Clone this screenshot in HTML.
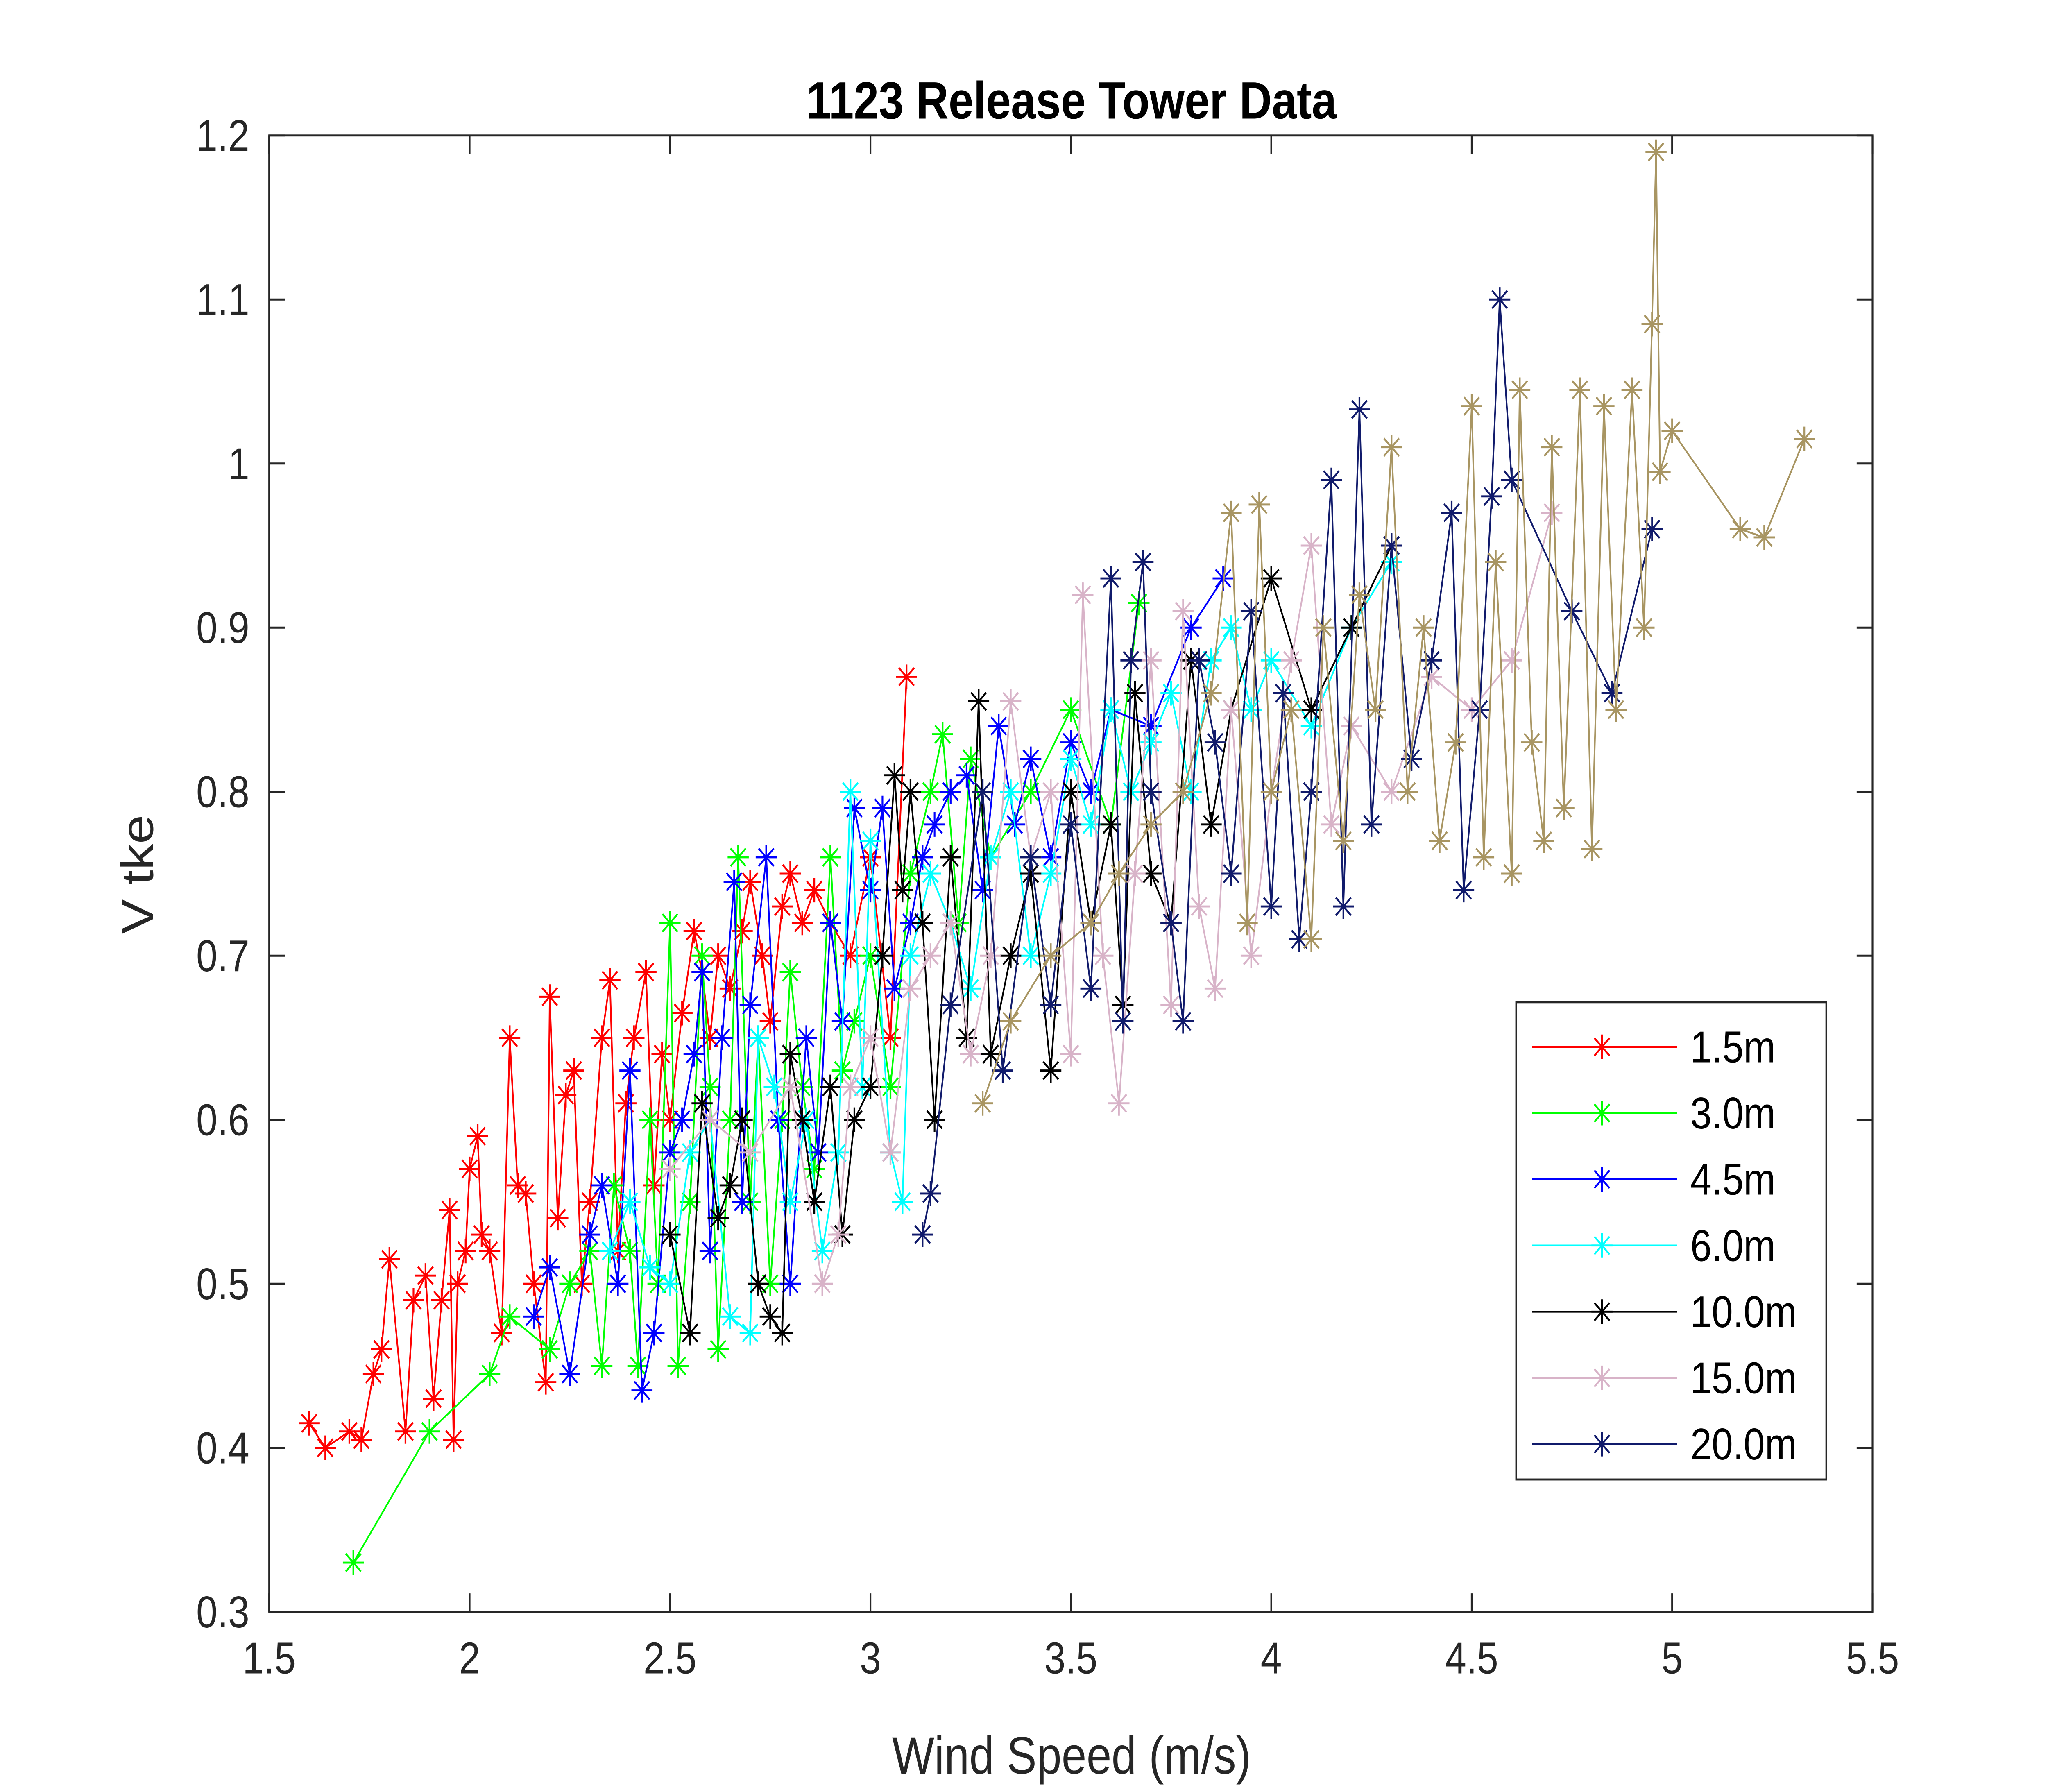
<!DOCTYPE html>
<html><head><meta charset="utf-8"><style>
html,body{margin:0;padding:0;background:#fff;width:100%;height:100%;overflow:hidden;}
svg{display:block;font-family:"Liberation Sans",Arial,sans-serif;width:100vw;height:100vh;}
</style></head><body>
<svg id="chart" viewBox="0 0 1552 1164" preserveAspectRatio="none" xmlns="http://www.w3.org/2000/svg">
<rect x="0" y="0" width="1552" height="1164" fill="#fff"/>
<text x="812" y="77" text-anchor="middle" font-size="34" font-weight="bold">1123 Release Tower Data</text>
<rect x="204" y="88" width="1215" height="959" fill="#fff" stroke="none"/>
<g id="marks"></g>
<g id="axes"></g>
<text x="812" y="1152" text-anchor="middle" font-size="34" fill="#262626">Wind Speed (m/s)</text>
<text x="0" y="0" transform="translate(116,568) rotate(-90)" text-anchor="middle" font-size="34" fill="#262626">V tke</text>
<g id="legend"></g>
</svg>
<script>
const xTicks=[1.5,2,2.5,3,3.5,4,4.5,5,5.5];
const xTickLabels=["1.5","2","2.5","3","3.5","4","4.5","5","5.5"];
const yTicks=[0.3,0.4,0.5,0.6,0.7,0.8,0.9,1,1.1,1.2];
const yTickLabels=["0.3","0.4","0.5","0.6","0.7","0.8","0.9","1","1.1","1.2"];
const seriesNames=["1.5m","3.0m","4.5m","6.0m","10.0m","15.0m","20.0m","25.0m"];
const x15=[1.6,1.64,1.7,1.73,1.76,1.78,1.8,1.84,1.86,1.89,1.91,1.93,1.95,1.96,1.97,1.99,2.0,2.02,2.03,2.05,2.08,2.1,2.12,2.14,2.16,2.19,2.2,2.22,2.24,2.26,2.28,2.3,2.33,2.35,2.37,2.39,2.41,2.44,2.46,2.48,2.5,2.53,2.56,2.58,2.6,2.62,2.65,2.68,2.7,2.73,2.75,2.78,2.8,2.83,2.86,2.9,2.95,3.0,3.05,3.09];
const y15=[0.415,0.4,0.41,0.405,0.445,0.46,0.515,0.41,0.49,0.505,0.43,0.49,0.545,0.405,0.5,0.52,0.57,0.59,0.53,0.52,0.47,0.65,0.56,0.555,0.5,0.44,0.675,0.54,0.615,0.63,0.5,0.55,0.65,0.685,0.52,0.61,0.65,0.69,0.56,0.64,0.6,0.665,0.715,0.69,0.65,0.7,0.68,0.715,0.745,0.7,0.66,0.73,0.75,0.72,0.74,0.72,0.7,0.76,0.65,0.87];
const x30=[1.71,1.9,2.05,2.1,2.2,2.25,2.3,2.33,2.36,2.4,2.42,2.45,2.47,2.5,2.52,2.55,2.58,2.6,2.62,2.65,2.67,2.7,2.72,2.75,2.78,2.8,2.83,2.86,2.9,2.93,2.96,3.0,3.05,3.1,3.15,3.18,3.22,3.25,3.3,3.4,3.5,3.6,3.67];
const y30=[0.33,0.41,0.445,0.48,0.46,0.5,0.52,0.45,0.56,0.52,0.45,0.6,0.5,0.72,0.45,0.55,0.7,0.62,0.46,0.6,0.76,0.55,0.65,0.5,0.6,0.69,0.62,0.57,0.76,0.63,0.66,0.7,0.62,0.75,0.8,0.835,0.72,0.82,0.76,0.8,0.85,0.78,0.915];
const x45=[2.16,2.2,2.25,2.3,2.33,2.37,2.4,2.43,2.46,2.5,2.53,2.56,2.58,2.6,2.63,2.66,2.68,2.7,2.74,2.77,2.8,2.84,2.87,2.9,2.93,2.96,3.0,3.03,3.06,3.1,3.13,3.16,3.2,3.24,3.28,3.32,3.36,3.4,3.45,3.5,3.55,3.6,3.7,3.8,3.88];
const y45=[0.48,0.51,0.445,0.53,0.56,0.5,0.63,0.435,0.47,0.58,0.6,0.64,0.69,0.52,0.65,0.745,0.55,0.67,0.76,0.6,0.5,0.65,0.58,0.72,0.66,0.79,0.74,0.79,0.68,0.72,0.76,0.78,0.8,0.81,0.74,0.84,0.78,0.82,0.76,0.83,0.8,0.85,0.84,0.9,0.93];
const x60=[2.35,2.4,2.45,2.5,2.55,2.6,2.65,2.7,2.72,2.76,2.8,2.84,2.88,2.92,2.95,2.98,3.0,3.05,3.08,3.1,3.15,3.2,3.25,3.3,3.35,3.4,3.45,3.5,3.55,3.6,3.65,3.7,3.75,3.8,3.85,3.9,3.95,4.0,4.1,4.2,4.3];
const y60=[0.52,0.55,0.51,0.5,0.58,0.6,0.48,0.47,0.65,0.62,0.55,0.6,0.52,0.58,0.8,0.62,0.77,0.58,0.55,0.7,0.75,0.72,0.68,0.76,0.8,0.7,0.75,0.82,0.78,0.85,0.8,0.83,0.86,0.8,0.88,0.9,0.85,0.88,0.84,0.9,0.94];
const x100=[2.5,2.55,2.58,2.62,2.65,2.68,2.72,2.75,2.78,2.8,2.83,2.86,2.9,2.93,2.96,3.0,3.03,3.06,3.08,3.1,3.13,3.16,3.2,3.24,3.27,3.3,3.35,3.4,3.45,3.5,3.55,3.6,3.63,3.66,3.7,3.75,3.8,3.85,3.9,4.0,4.1,4.2,4.3];
const y100=[0.53,0.47,0.61,0.54,0.56,0.6,0.5,0.48,0.47,0.64,0.6,0.55,0.62,0.53,0.6,0.62,0.7,0.81,0.74,0.8,0.72,0.6,0.76,0.65,0.855,0.64,0.7,0.75,0.63,0.8,0.72,0.78,0.67,0.86,0.75,0.72,0.88,0.78,0.85,0.93,0.85,0.9,0.95];
const x150=[2.5,2.6,2.7,2.8,2.88,2.92,2.95,3.0,3.05,3.1,3.15,3.2,3.25,3.3,3.35,3.4,3.45,3.5,3.53,3.58,3.62,3.66,3.7,3.75,3.78,3.82,3.86,3.9,3.95,4.0,4.05,4.1,4.15,4.2,4.3,4.4,4.5,4.6,4.7];
const y150=[0.57,0.6,0.58,0.62,0.5,0.53,0.62,0.65,0.58,0.68,0.7,0.72,0.64,0.7,0.855,0.76,0.8,0.64,0.92,0.7,0.61,0.75,0.88,0.67,0.91,0.73,0.68,0.85,0.7,0.8,0.88,0.95,0.78,0.84,0.8,0.87,0.85,0.88,0.97];
const x200=[3.13,3.15,3.2,3.28,3.33,3.4,3.45,3.5,3.55,3.6,3.63,3.65,3.68,3.7,3.75,3.78,3.82,3.86,3.9,3.95,4.0,4.03,4.07,4.1,4.15,4.18,4.22,4.25,4.3,4.35,4.4,4.45,4.48,4.52,4.55,4.57,4.6,4.75,4.85,4.95];
const y200=[0.53,0.555,0.67,0.8,0.63,0.76,0.67,0.78,0.68,0.93,0.66,0.88,0.94,0.8,0.72,0.66,0.88,0.83,0.75,0.91,0.73,0.86,0.71,0.8,0.99,0.73,1.033,0.78,0.95,0.82,0.88,0.97,0.74,0.85,0.98,1.1,0.99,0.91,0.86,0.96];
const x250=[3.28,3.35,3.45,3.55,3.62,3.7,3.78,3.85,3.9,3.94,3.97,4.0,4.05,4.1,4.13,4.18,4.22,4.26,4.3,4.34,4.38,4.42,4.46,4.5,4.53,4.56,4.6,4.62,4.65,4.68,4.7,4.73,4.77,4.8,4.83,4.86,4.9,4.93,4.95,4.96,4.97,5.0,5.17,5.23,5.33];
const y250=[0.61,0.66,0.7,0.72,0.75,0.78,0.8,0.86,0.97,0.72,0.975,0.8,0.85,0.71,0.9,0.77,0.92,0.85,1.01,0.8,0.9,0.77,0.83,1.035,0.76,0.94,0.75,1.045,0.83,0.77,1.01,0.79,1.045,0.765,1.035,0.85,1.045,0.9,1.085,1.19,0.995,1.02,0.96,0.955,1.015];

const NS="http://www.w3.org/2000/svg";
const L=204,R=1419,T=88,B=1047;
function sx(v){return L+(v-1.5)/(5.5-1.5)*(R-L);}
function sy(v){return B-(v-0.3)/(1.2-0.3)*(B-T);}
function mk(tag,attrs,parent){const e=document.createElementNS(NS,tag);for(const k in attrs)e.setAttribute(k,attrs[k]);parent.appendChild(e);return e;}
function star(cx,cy,r,color,parent){
  const d=`M${cx-r},${cy}H${cx+r}M${cx},${cy-r}V${cy+r}M${cx-r*0.72},${cy-r*0.72}L${cx+r*0.72},${cy+r*0.72}M${cx-r*0.72},${cy+r*0.72}L${cx+r*0.72},${cy-r*0.72}`;
  return mk('path',{d:d,stroke:color,'stroke-width':1.3,fill:'none'},parent);
}
const series=[
 {x:x15,y:y15,c:'#ff0000',n:'series-1-5m'},
 {x:x30,y:y30,c:'#00ff00',n:'series-3-0m'},
 {x:x45,y:y45,c:'#0000ff',n:'series-4-5m'},
 {x:x60,y:y60,c:'#00ffff',n:'series-6-0m'},
 {x:x100,y:y100,c:'#000000',n:'series-10-0m'},
 {x:x150,y:y150,c:'#d8b3c8',n:'series-15-0m'},
 {x:x200,y:y200,c:'#101a6b',n:'series-20-0m'},
 {x:x250,y:y250,c:'#a89562',n:'series-25-0m'}
];
const marks=document.getElementById('marks');
series.forEach(s=>{
  const g=mk('g',{},marks);
  
  
  const pts=s.x.map((v,i)=>sx(v).toFixed(1)+','+sy(s.y[i]).toFixed(1)).join(' ');
  const pl=mk('polyline',{points:pts,fill:'none',stroke:s.c,'stroke-width':1.2},g);
  
  
  s.x.forEach((v,i)=>{
    const p=star(sx(v),sy(s.y[i]),8,s.c,g);
    
    
  });
});
const axes=document.getElementById('axes');
mk('rect',{x:L,y:T,width:R-L,height:B-T,fill:'none',stroke:'#262626','stroke-width':1.3},axes);
xTicks.forEach((v,i)=>{
  const X=sx(v);
  mk('line',{x1:X,y1:B,x2:X,y2:B-12,stroke:'#262626','stroke-width':1.3},axes);
  mk('line',{x1:X,y1:T,x2:X,y2:T+12,stroke:'#262626','stroke-width':1.3},axes);
  const t=mk('text',{x:X,y:B+40,'text-anchor':'middle','font-size':29,fill:'#262626'},axes);
  t.textContent=xTickLabels[i];
  
  
});
yTicks.forEach((v,i)=>{
  const Y=sy(v);
  mk('line',{x1:L,y1:Y,x2:L+12,y2:Y,stroke:'#262626','stroke-width':1.3},axes);
  mk('line',{x1:R,y1:Y,x2:R-12,y2:Y,stroke:'#262626','stroke-width':1.3},axes);
  const t=mk('text',{x:189,y:Y+10,'text-anchor':'end','font-size':29,fill:'#262626'},axes);
  t.textContent=yTickLabels[i];
  
  
});
const lg=document.getElementById('legend');
mk('rect',{x:1149,y:651,width:235,height:310,fill:'#fff',stroke:'#262626','stroke-width':1.3},lg);
for(let i=0;i<7;i++){
  const Y=680+i*43;
  const g=mk('g',{},lg);
  
  
  mk('line',{x1:1161,y1:Y,x2:1271,y2:Y,stroke:series[i].c,'stroke-width':1.2},g);
  star(1214,Y,8,series[i].c,g);
  const t=mk('text',{x:1281,y:Y+10,'font-size':29,fill:'#000'},g);
  t.textContent=seriesNames[i];
}
</script>
</body></html>
